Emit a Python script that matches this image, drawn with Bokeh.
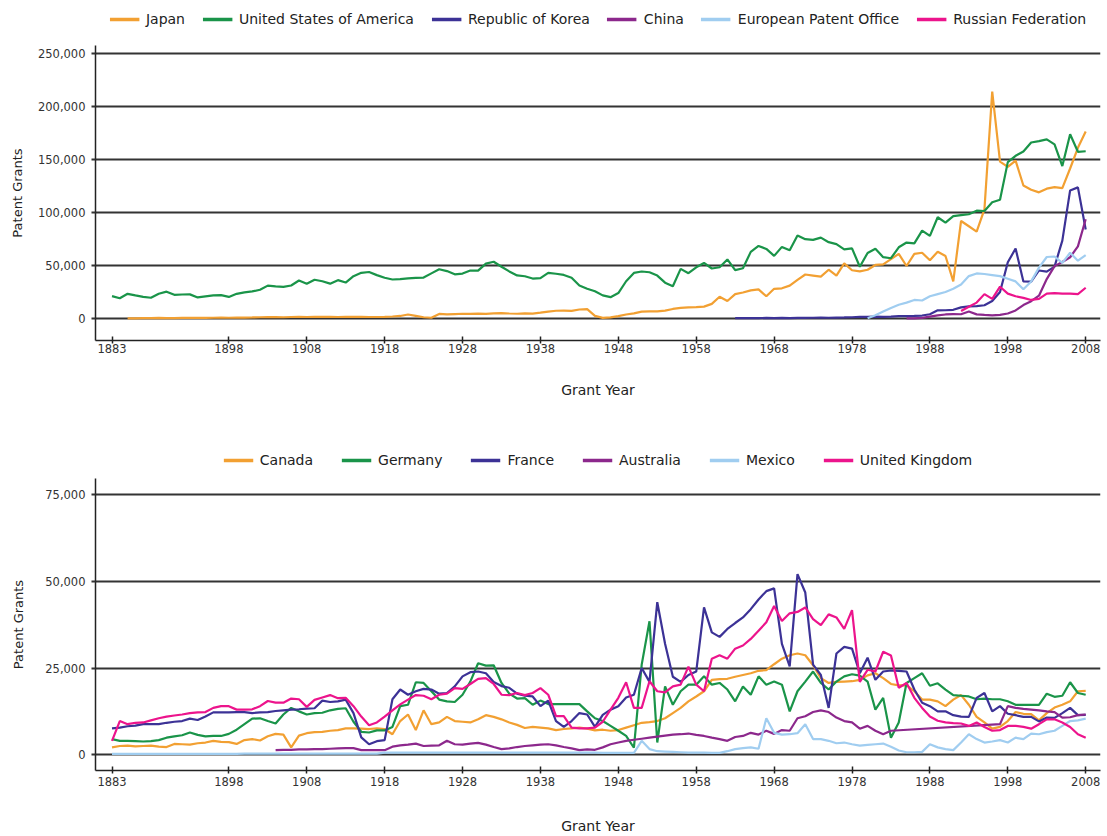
from bokeh.plotting import figure
from bokeh.layouts import column
from bokeh.models import FixedTicker, NumeralTickFormatter, Legend, LegendItem, Range1d
from bokeh.embed import file_html
from bokeh.resources import INLINE

FONT = "DejaVu Sans"

# ---------------- data: top chart ----------------
top_names = ["Japan", "United States of America", "Republic of Korea", "China",
             "European Patent Office", "Russian Federation"]
top_colors = ["#F2A032", "#1A9449", "#3C3296", "#8C288C", "#A0CDF0", "#EC148C"]

japan_start = 1885
japan = [100, 200, 300, 400, 500, 400, 400, 500, 500, 500,
         600, 700, 800, 700, 800, 900, 1000, 1200, 1300, 1300,
         1200, 1400, 1500, 1400, 1500, 1600, 1500, 1400, 1500, 1600,
         1500, 1400, 1400, 1600, 1900, 2400, 3800, 2500, 1200, 700,
         4300, 3800, 4200, 4500, 4400, 4600, 4300, 4800, 5000, 4700,
         4500, 4800, 4600, 5500, 6500, 7300, 7500, 7200, 8500, 8800,
         2500, 600, 1000, 2200, 3800, 4800, 6500, 6800, 6700, 7500,
         9000, 10000, 10500, 10800, 11200, 13800, 20500, 16500, 23000, 24500,
         26500, 27500, 21000, 28000, 28500, 31000, 36500, 41500, 40500, 39500,
         46000, 40500, 52000, 45500, 44500, 46000, 50500, 51000, 56000, 61000,
         49500, 61000, 62000, 55000, 63000, 59000, 35000, 92000, 87000, 82000,
         103000, 214000, 148000, 143000, 149000, 125500, 121500, 119000, 122500, 124000,
         123000, 141500, 161000, 176500]

usa_start = 1883
usa = [21162, 19118, 23285, 21767, 20403, 19551, 23324, 25313, 22312, 22661,
       22768, 19875, 20856, 21822, 22067, 20377, 23278, 24644, 25546, 27136,
       31029, 30258, 29775, 31170, 35859, 32757, 36574, 35141, 32856, 36198,
       33917, 39892, 43118, 43892, 40935, 38452, 36797, 37060, 37798, 38369,
       38616, 42574, 46432, 44733, 41717, 42357, 45267, 45226, 51756, 53504,
       48774, 44420, 40618, 39831, 37683, 38076, 43073, 42238, 41109, 38514,
       31054, 28053, 25695, 21803, 20139, 23963, 35131, 43040, 44326, 43616,
       40468, 33809, 30432, 46817, 42744, 48330, 52408, 47170, 48368, 55691,
       45679, 47376, 62857, 68406, 65652, 59104, 67559, 64429, 78317, 74810,
       74143, 76278, 72000, 70226, 65269, 66102, 48854, 61819, 65771, 57888,
       56860, 67200, 71661, 70860, 82952, 77924, 95537, 90365, 96511, 97444,
       98342, 101676, 101419, 109645, 111984, 147517, 153485, 157494, 166035, 167331,
       169023, 164290, 143806, 173772, 157282, 157772]

korea_start = 1963
korea = [400, 300, 300, 400, 500, 400, 500, 400, 500, 600,
         700, 800, 700, 900, 1000, 1200, 1500, 1600, 1800, 1600,
         1800, 2300, 2300, 2400, 2800, 4000, 7700, 7800, 8200, 10500,
         11400, 11700, 12500, 16500, 25000, 53000, 66000, 35000, 34700, 45300,
         44200, 49000, 73500, 120800, 123700, 84000]

china_start = 1985
china = [100, 100, 600, 1800, 3000, 3800, 4100, 4000, 6600, 3900,
         3400, 3000, 3500, 4700, 7600, 12700, 16300, 21500, 37200, 49400,
         53300, 57800, 68000, 93700]

epo_start = 1980
epo = [300, 3000, 6500, 10000, 13000, 15000, 17500, 17000, 21000, 23000,
       25000, 28000, 32000, 40000, 42500, 42000, 41000, 40000, 37500, 35000,
       27500, 35000, 48000, 58000, 58500, 52500, 62000, 54500, 59800]

russia_start = 1992
russia = [7000, 11000, 15000, 23000, 18500, 30000, 23500, 21000, 19500, 17500,
          18500, 23500, 24000, 23500, 23500, 23000, 29000]

top_yticks = [0, 50000, 100000, 150000, 200000, 250000]

# ---------------- data: bottom chart ----------------
bot_names = ["Canada", "Germany", "France", "Australia", "Mexico", "United Kingdom"]
bot_colors = ["#F2A032", "#1A9449", "#3C3296", "#8C288C", "#A0CDF0", "#EC148C"]

canada_start = 1883
canada = [2100, 2500, 2600, 2400, 2500, 2600, 2300, 2200, 3100, 3000,
          2900, 3300, 3500, 4000, 3700, 3600, 3100, 4200, 4500, 4100,
          5300, 6000, 5800, 2100, 5500, 6200, 6500, 6600, 6900, 7100,
          7600, 7600, 7500, 7400, 7600, 7400, 5900, 9700, 11600, 7100,
          12800, 8800, 9300, 10900, 9700, 9500, 9300, 10200, 11400, 10900,
          10200, 9300, 8600, 7700, 8000, 7800, 7600, 7100, 7400, 7600,
          7800, 7500, 7000, 7200, 6900, 7100, 7800, 8500, 9200, 9400,
          9700, 10500, 12000, 13500, 15400, 16800, 18300, 21600, 21800, 21900,
          22500, 23000, 23500, 24200, 24400, 26100, 27700, 28700, 29200, 28700,
          25800, 22100, 20700, 21000, 21100, 21200, 21600, 22900, 23500, 22100,
          20400, 20000, 20100, 18300, 15900, 15900, 15400, 14000, 15900, 17200,
          14400, 10900, 9300, 7500, 8000, 9700, 12300, 11800, 11700, 9900,
          12000, 13600, 14400, 15400, 18300, 18400]

germany_start = 1883
germany = [4500, 4000, 4000, 3900, 3800, 3900, 4200, 4900, 5300, 5600,
           6400, 5700, 5300, 5400, 5400, 6000, 7200, 8800, 10400, 10500,
           9700, 9000, 11600, 13500, 12500, 11600, 12000, 12100, 12800, 13200,
           13400, 9500, 6600, 6400, 7000, 7000, 8000, 14000, 14400, 20900,
           20700, 18300, 15900, 15400, 15200, 17300, 21100, 26400, 25700, 25800,
           20700, 17600, 16200, 16300, 14400, 15600, 14600, 14600, 14600, 14600,
           14600, 12500, 10500, 9700, 8300, 6900, 5400, 2000, 26000, 38500,
           3500, 19700, 14400, 18300, 20200, 20200, 22600, 20200, 20700, 18800,
           15400, 19700, 17300, 22600, 20200, 21100, 20200, 12500, 18300, 21100,
           24000, 20700, 18800, 21100, 22600, 23200, 22800, 21100, 13000, 16400,
           4900, 9300, 20700, 22100, 23500, 19900, 20600, 18800, 17200, 17000,
           16800, 16000, 16200, 16000, 16000, 15400, 14400, 14400, 14400, 14400,
           17600, 16700, 17000, 20900, 17800, 17300]

france_start = 1883
france = [7600, 7800, 8200, 8400, 8800, 8800, 8800, 9200, 9500, 9700,
          10400, 10000, 11000, 12200, 12200, 12200, 12300, 12300, 12000, 12200,
          12300, 12600, 12800, 13000, 13100, 13300, 13400, 15600, 15200, 15400,
          15900, 12000, 5000, 3000, 3900, 4200, 16000, 18800, 17300, 18300,
          19000, 18800, 17600, 17800, 19700, 22600, 23800, 24000, 23500, 21000,
          19800, 19300, 17600, 17000, 16800, 14000, 15600, 9700, 8000, 9700,
          12000, 11600, 8000, 11500, 13000, 14000, 16500, 17300, 25000, 21000,
          44000, 32000, 22500, 21000, 23000, 24000, 42500, 35300, 34000, 36300,
          38000, 39600, 42000, 44800, 47200, 48000, 32000, 25500, 52100, 46800,
          26000, 23000, 13500, 29200, 31100, 30600, 23500, 28000, 21600, 24000,
          24300, 24200, 24000, 18800, 15000, 14000, 12500, 12500, 11400, 11000,
          10900, 16400, 17800, 12500, 14000, 11800, 11400, 10900, 10900, 9600,
          10700, 10600, 12000, 13500, 11400, 11500]

australia_start = 1904
australia = [1300, 1400, 1400, 1500, 1500, 1600, 1600, 1700, 1800, 1900,
             1900, 1300, 1300, 1300, 1300, 2300, 2700, 2900, 3200, 2500,
             2600, 2700, 4000, 3000, 2900, 3200, 3400, 2900, 2200, 1600,
             1800, 2200, 2500, 2700, 2900, 3000, 2700, 2200, 1800, 1300,
             1500, 1400, 2100, 3000, 3500, 4000, 4300, 4600, 4900, 5200,
             5500, 5800, 5900, 6100, 5700, 5400, 4900, 4500, 4000, 5100,
             5400, 6300, 5800, 6900, 6000, 7100, 6900, 10500, 11100, 12300,
             12800, 12300, 10700, 9700, 9300, 7500, 8300, 6900, 5900, 6900,
             None, None, None, None, None, None, None, None, None, None,
             None, None, None, 8800, 14000, 13500, 13200, 13000, 12800, 12500,
             12300, 10700, 10800, 11400, 11600]

mexico_start = 1883
mexico = [200, 200, 200, 200, 200, 200, 200, 200, 200, 200,
          200, 200, 200, 200, 200, 200, 200, 300, 300, 300,
          300, 300, 300, 300, 300, 300, 300, 300, 300, 300,
          300, 300, 300, 300, 300, 600, 600, 600, 600, 600,
          600, 600, 600, 600, 600, 600, 600, 600, 600, 600,
          600, 600, 600, 600, 600, 600, 600, 600, 600, 600,
          600, 600, 600, 500, 500, 500, 500, 500, 4000, 1600,
          1000, 900, 800, 700, 600, 600, 600, 500, 500, 1000,
          1600, 1900, 2100, 1700, 10500, 6300, 5800, 5900, 6200, 8800,
          4500, 4500, 4000, 3300, 3500, 3000, 2600, 2800, 3000, 3200,
          2300, 1200, 700, 700, 800, 3000, 2100, 1600, 1300, 3500,
          5900, 4500, 3500, 3800, 4200, 3500, 4900, 4500, 6100, 5900,
          6500, 6900, 8300, 9700, 9900, 10400]

uk_start = 1883
uk = [4000, 9700, 8800, 9200, 9300, 9900, 10500, 11000, 11300, 11600,
      12000, 12200, 12300, 13500, 14000, 14000, 13000, 13000, 13100, 14000,
      15500, 15000, 15000, 16200, 16000, 13800, 15800, 16500, 17200, 16300,
      16400, 14000, 11000, 8500, 9300, 11000, 12800, 14500, 15900, 17200,
      17000, 16000, 17300, 17600, 19200, 19000, 20400, 21900, 22100, 20400,
      17300, 17200, 17800, 17200, 17800, 19200, 17300, 11100, 11100, 7800,
      7600, 7600, 7800, 9500, 13000, 16400, 20900, 13500, 13500, 21200,
      18300, 18000, 19700, 20200, 25400, 20200, 18300, 27700, 28700, 27700,
      30600, 31500, 33400, 35800, 38200, 42900, 38600, 40800, 41200, 42500,
      39100, 37400, 40500, 39600, 36300, 41700, 21000, 24500, 24000, 29700,
      28600, 19300, 20700, 16400, 13500, 11000, 9800, 9300, 9100, 9000,
      8300, 9300, 8000, 6900, 7100, 8300, 8300, 8000, 7500, 8800,
      10200, 10200, 9300, 8000, 5900, 4900]

bot_yticks = [0, 25000, 50000, 75000]

year_ticks = [1883, 1898, 1908, 1918, 1928, 1938, 1948, 1958, 1968, 1978, 1988, 1998, 2008]

top_series = [(japan_start, japan), (usa_start, usa), (korea_start, korea),
              (china_start, china), (epo_start, epo), (russia_start, russia)]
bot_series = [(canada_start, canada), (germany_start, germany), (france_start, france),
              (australia_start, australia), (mexico_start, mexico), (uk_start, uk)]

W = 1103
BL, BR = 95, 3


def pairs(start, vals):
    xs, ys = [], []
    for i, v in enumerate(vals):
        if v is not None:
            xs.append(start + i)
            ys.append(v)
    return xs, ys


def legend_fig(names, colors, height, spacing):
    lf = figure(width=W, height=height, output_backend="svg", toolbar_location=None,
                x_axis_location=None, y_axis_location=None,
                min_border_left=BL, min_border_right=BR, min_border_top=0, min_border_bottom=0,
                x_range=Range1d(0, 1), y_range=Range1d(0, 1))
    lf.grid.visible = False
    lf.outline_line_color = None
    items = []
    for n, c in zip(names, colors):
        # dummy line kept outside the visible range; only its legend swatch shows
        r = lf.line(x=[-10, -9], y=[-10, -9], line_color=c, line_width=3.5)
        items.append(LegendItem(label=n, renderers=[r]))
    leg = Legend(items=items, orientation="horizontal", location="center",
                 glyph_width=30, glyph_height=16, label_standoff=7, spacing=spacing,
                 padding=0, margin=0, border_line_color=None, background_fill_alpha=0,
                 label_text_font=FONT, label_text_font_size="14px", label_text_color="#222222",
                 label_height=16)
    lf.add_layout(leg, "center")
    return lf


def chart(series, colors, yticks, y0, y1, height, btop, bbot, ylab_standoff,
          xlab_standoff, xtick_standoff):
    p = figure(width=W, height=height, output_backend="svg", toolbar_location=None,
               x_range=Range1d(1880.88, 2009.9), y_range=Range1d(y0, y1),
               min_border_left=BL, min_border_right=BR, min_border_top=btop, min_border_bottom=bbot)
    p.outline_line_color = None
    p.background_fill_color = "white"
    p.xgrid.visible = False
    p.ygrid.ticker = FixedTicker(ticks=yticks)
    p.ygrid.grid_line_color = "#333333"
    p.ygrid.grid_line_width = 2

    for (start, vals), c in zip(series, colors):
        xs, ys = pairs(start, vals)
        p.line(xs, ys, line_color=c, line_width=2.2)

    xa = p.xaxis[0]
    xa.ticker = FixedTicker(ticks=year_ticks, minor_ticks=[])
    xa.axis_label = "Grant Year"
    xa.axis_label_text_font = FONT
    xa.axis_label_text_font_size = "14px"
    xa.axis_label_text_font_style = "normal"
    xa.axis_label_text_color = "#222222"
    xa.axis_label_standoff = xlab_standoff
    xa.major_label_text_font = FONT
    xa.major_label_text_font_size = "11.5px"
    xa.major_label_text_color = "#333333"
    xa.major_label_standoff = xtick_standoff
    xa.axis_line_color = "#222222"
    xa.axis_line_width = 1.5
    xa.major_tick_line_color = "#222222"
    xa.major_tick_line_width = 1.5
    xa.major_tick_in = 4
    xa.major_tick_out = 3
    xa.minor_tick_line_color = None

    ya = p.yaxis[0]
    ya.ticker = FixedTicker(ticks=yticks, minor_ticks=[])
    ya.formatter = NumeralTickFormatter(format="0,0")
    ya.axis_label = "Patent Grants"
    ya.axis_label_text_font = FONT
    ya.axis_label_text_font_size = "13px"
    ya.axis_label_text_font_style = "normal"
    ya.axis_label_text_color = "#222222"
    ya.axis_label_standoff = ylab_standoff
    ya.major_label_text_font = FONT
    ya.major_label_text_font_size = "11.5px"
    ya.major_label_text_color = "#333333"
    ya.major_label_standoff = 6
    ya.axis_line_color = "#222222"
    ya.axis_line_width = 1.5
    ya.major_tick_line_color = "#333333"
    ya.major_tick_line_width = 2
    ya.major_tick_in = 0
    ya.major_tick_out = 4
    ya.minor_tick_line_color = None
    return p


# top: 0 at page y 318, 250k at 53 -> frame page 45..340
top_per_px = 250000 / 265.0
top = chart(top_series, top_colors, top_yticks,
            -22 * top_per_px, 250000 + 8 * top_per_px,
            height=411, btop=7, bbot=109, ylab_standoff=10,
            xlab_standoff=26, xtick_standoff=0)
# bottom: 0 at page y 757, 75k at 494.5 -> frame page 478..773
bot_per_px = 75000 / 262.5
bot = chart(bot_series, bot_colors, bot_yticks,
            -16 * bot_per_px, 75000 + 16.5 * bot_per_px,
            height=365, btop=7, bbot=63, ylab_standoff=16,
            xlab_standoff=29, xtick_standoff=3)

leg_top = legend_fig(top_names, top_colors, 38, 17)
leg_bot = legend_fig(bot_names, bot_colors, 22, 28)

layout = column(leg_top, top, leg_bot, bot, spacing=0)

open("out.html", "w").write(file_html(layout, INLINE))
